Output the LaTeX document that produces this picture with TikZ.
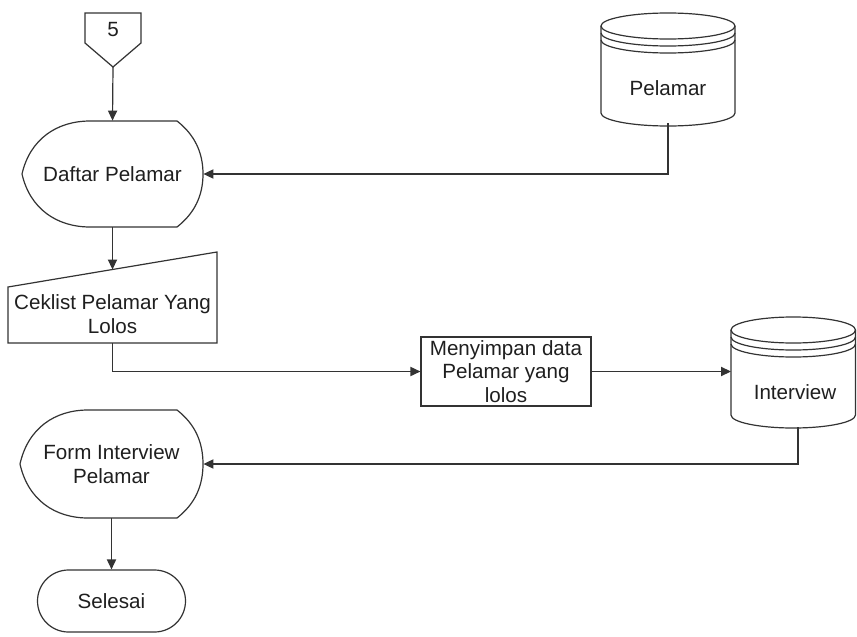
\documentclass[tikz,border=0pt]{standalone}
\usepackage{fontspec}
\setmainfont{Liberation Sans}
\usetikzlibrary{arrows.meta}

\tikzset{
  shp/.style={draw=black!80, line width=0.6pt, fill=white},
  lbl/.style={font=\fontsize{10.3}{11.7}\selectfont, align=center, text=black!88, inner sep=0pt},
  flow/.style={draw=black!80, line width=0.6pt, -{Triangle[length=5pt,width=4.6pt]}},
}

% database cylinder: left x, right x, top-ellipse centre y, ry, side bottom y
\newcommand{\dbcyl}[5]{%
  \pgfmathsetmacro{\cxm}{(#1+#2)/2}%
  \pgfmathsetmacro{\crx}{(#2-#1)/2}%
  \draw[shp] (#1,#3) -- (#1,#5) arc[start angle=180,end angle=360,x radius=\crx,y radius=-#4]
    -- (#2,#3) arc[start angle=0,end angle=180,x radius=\crx,y radius=-#4] -- cycle;
  \draw[shp,fill=none] (#1,#3) arc[start angle=180,end angle=360,x radius=\crx,y radius=-#4];
  \draw[shp,fill=none] (#1,#3+7) arc[start angle=180,end angle=360,x radius=\crx,y radius=-#4];
  \draw[shp,fill=none] (#1,#3+14) arc[start angle=180,end angle=360,x radius=\crx,y radius=-#4];
}

% display shape: left x, right x, top y, bottom y
\newcommand{\dispshape}[4]{%
  \pgfmathsetmacro{\my}{(#3+#4)/2}%
  \draw[shp] (#1,\my) .. controls (#1+8,#3+18) and (#1+35,#3) .. (#1+68,#3)
    -- (#2-26,#3) .. controls (#2-8,#3+14) and (#2,#3+32) .. (#2,\my)
    .. controls (#2,#4-32) and (#2-8,#4-14) .. (#2-26,#4)
    -- (#1+68,#4) .. controls (#1+35,#4) and (#1+8,#4-18) .. (#1,\my) -- cycle;
}

\begin{document}
\begin{tikzpicture}[x=0.5pt,y=-0.5pt]
\useasboundingbox (0,0) rectangle (857,637);

% off-page connector
\draw[shp] (85,13) -- (141,13) -- (141,43) -- (113,67) -- (85,43) -- cycle;
\node[lbl] (c5) at (113,30) {5};
\coordinate (c5tip) at (113,67);

% Pelamar data store
\dbcyl{601}{735}{26}{13}{113}
\node[lbl] (pelamar) at (668,88) {Pelamar};
\coordinate (pelamarB) at (668,123);

% Daftar Pelamar display
\dispshape{22}{203}{121}{227}
\node[lbl, minimum width=90.5pt, minimum height=53pt] (daftar) at (112.5,174) {Daftar Pelamar};

% Ceklist manual input
\draw[shp] (8,287) -- (217,252) -- (217,343) -- (8,343) -- cycle;
\node[lbl] (ceklist) at (112.5,314) {Ceklist Pelamar Yang\\Lolos};
\coordinate (ceklistT) at (112.5,269.5);
\coordinate (ceklistB) at (112.5,343);

% process box
\node[shp, lbl, minimum width=85pt, minimum height=34.5pt] (simpan) at (506,371.5)
  {Menyimpan data\\Pelamar yang\\lolos};

% Interview data store
\dbcyl{731}{855.5}{330}{13}{415}
\node[lbl] (interview) at (795,392) {Interview};
\coordinate (intL) at (731,371.5);
\coordinate (intB) at (798,427);

% Form Interview Pelamar display
\dispshape{20}{203}{410}{518}
\node[lbl, minimum width=91.5pt, minimum height=54pt] (form) at (111.5,464) {Form Interview\\Pelamar};

% terminator
\node[shp, lbl, rounded corners=15.5pt, minimum width=74pt, minimum height=31pt] (selesai) at (111.5,601) {Selesai};

% connectors
\draw[flow] (c5tip) -- (daftar.north);
\draw[flow] (pelamarB) |- (daftar.east);
\draw[flow] (daftar.south) -- (ceklistT);
\draw[flow] (ceklistB) |- (simpan.west);
\draw[flow] (simpan.east) -- (intL);
\draw[flow] (intB) |- (form.east);
\draw[flow] (form.south) -- (selesai.north);
\end{tikzpicture}
\end{document}
